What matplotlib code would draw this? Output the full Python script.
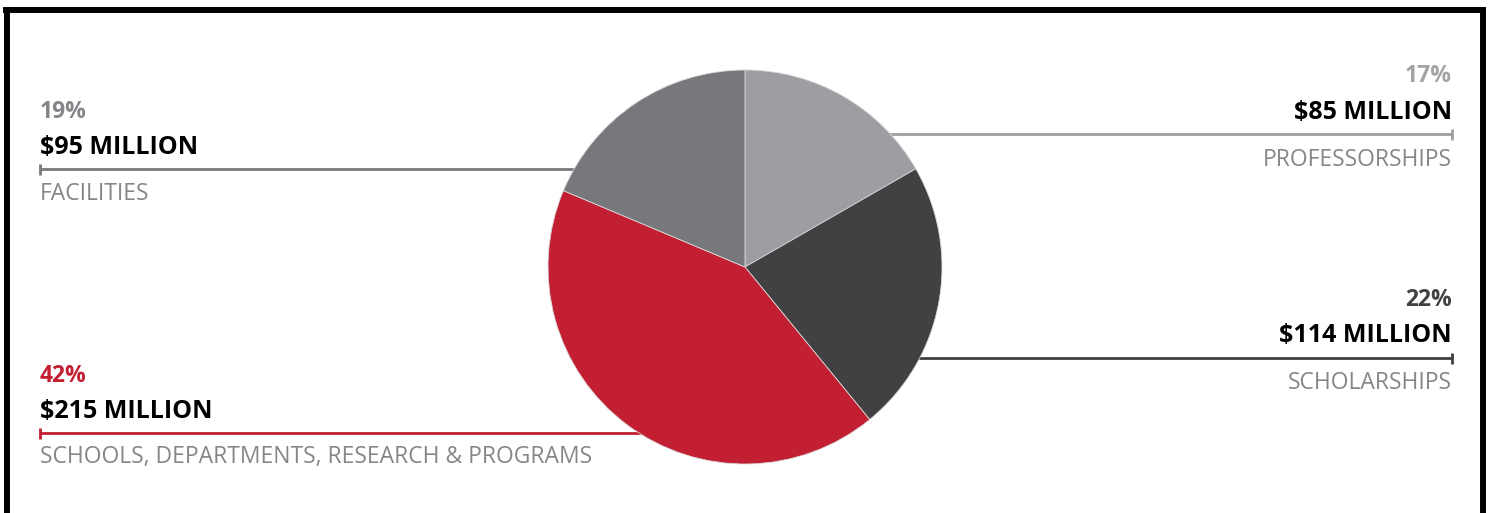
import numpy as np
import matplotlib.pyplot as plt
from matplotlib.lines import Line2D

plt.rcParams['font.family'] = ['Open Sans', 'DejaVu Sans']

# data, clockwise from 12 o'clock
categories = ['PROFESSORSHIPS', 'SCHOLARSHIPS',
              'SCHOOLS, DEPARTMENTS, RESEARCH & PROGRAMS', 'FACILITIES']
amounts = [85, 114, 215, 95]  # $ million
percents = ['17%', '22%', '42%', '19%']
colors = ['#9d9ea1', '#414042', '#c21f32', '#77787b']
pct_colors = ['#a2a3a6', '#414042', '#c21f32', '#858689']

W, H = 1492, 513
fig = plt.figure(figsize=(W / 100, H / 100), dpi=100)
ax = fig.add_axes([0, 0, 1, 1])
ax.set_xlim(0, W)
ax.set_ylim(0, H)
ax.set_aspect('equal')
ax.axis('off')

cx, cy, r = 745, H - 267, 197

# label layout (pixel positions measured from the top)
# side, x anchor, baselines for pct / amount / name, leader line y
layout = [
    ('right', 1452, 82, 119, 166, 134),
    ('right', 1452, 306, 342, 389, 358),
    ('left', 40, 382, 418, 463, 433),
    ('left', 40, 118, 154, 200, 169),
]

grey_txt = '#858688'
for i, (side, x0, yp, ya, yn, yl) in enumerate(layout):
    ha = 'right' if side == 'right' else 'left'
    ax.text(x0, H - yp, percents[i], ha=ha, va='baseline', fontsize=16.5,
            fontweight='bold', color=pct_colors[i])
    ax.text(x0, H - ya, f'${amounts[i]} MILLION', ha=ha, va='baseline',
            fontsize=18, fontweight='bold', color='black')
    ax.text(x0, H - yn, categories[i], ha=ha, va='baseline', fontsize=16.5,
            color=grey_txt)
    # leader line runs under the pie to its centre
    ax.plot([x0, cx], [H - yl, H - yl], color=colors[i], lw=2, zorder=1,
            solid_capstyle='butt')
    ax.plot([x0, x0], [H - yl - 5.5, H - yl + 5.5], color=colors[i], lw=2,
            zorder=1, solid_capstyle='butt')

ax.pie(amounts, colors=colors, startangle=90, counterclock=False,
       center=(cx, cy), radius=r, frame=True,
       wedgeprops=dict(linewidth=0.6, edgecolor='#d8d8d8', zorder=2))
ax.set_xlim(0, W)
ax.set_ylim(0, H)
ax.axis('off')

# frame: top, left and right edges only
fig.add_artist(Line2D([6.5 / W, 6.5 / W], [0, 1 - 7 / H], color='black',
                      lw=4.3, transform=fig.transFigure, solid_capstyle='butt'))
fig.add_artist(Line2D([1482.5 / W, 1482.5 / W], [0, 1 - 7 / H], color='black',
                      lw=4.3, transform=fig.transFigure, solid_capstyle='butt'))
fig.add_artist(Line2D([3.5 / W, 1485.5 / W], [1 - 10 / H, 1 - 10 / H],
                      color='black', lw=4.3, transform=fig.transFigure,
                      solid_capstyle='butt'))

fig.savefig('out.png', dpi=100, facecolor='white')
